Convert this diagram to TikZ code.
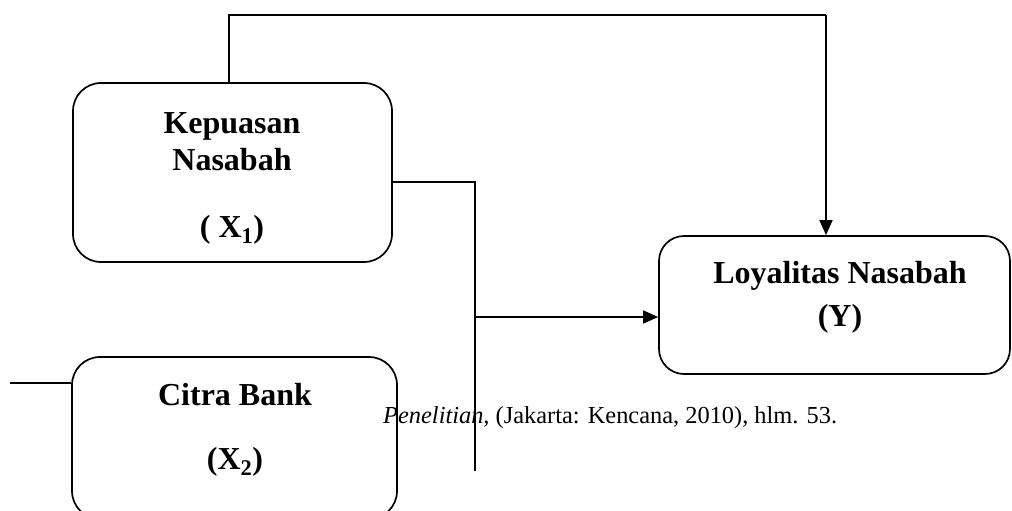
\documentclass[tikz,border=0pt]{standalone}
\usepackage{fontspec}
\setmainfont{Liberation Serif}
\usetikzlibrary{arrows.meta}
\begin{document}
\begin{tikzpicture}[x=1pt,y=-1pt,
  box/.style={draw, line width=1.7pt, rounded corners=28pt, inner sep=0pt},
  lbl/.style={font=\fontsize{32}{38}\selectfont\bfseries, inner sep=0pt, anchor=base},
  conn/.style={line width=1.7pt},
  arr/.style={conn, -{Triangle[length=15pt,width=13pt]}}]
\clip (0,0) rectangle (1012,511);
% boxes
\node[box, minimum width=319pt, minimum height=179pt] (x1) at (232.5,172.5) {};
\node[box, minimum width=325pt, minimum height=162pt] (x2) at (234.5,438) {};
\node[box, rounded corners=25pt, minimum width=351pt, minimum height=138pt] (y) at (834.5,305) {};
% labels
\node[lbl] (t1a) at (232,133) {Kepuasan};
\node[lbl] (t1b) at (232,170) {Nasabah};
\node[lbl] (t1c) at (232,237) {( X\textsubscript{1})};
\node[lbl] (t2a) at (235,405) {Citra Bank};
\node[lbl] (t2b) at (235,469) {(X\textsubscript{2})};
\node[lbl] (t3a) at (840,283) {Loyalitas Nasabah};
\node[lbl] (t3b) at (840,326) {(Y)};
\node[font=\fontsize{24.4}{29}\selectfont, inner sep=0pt, anchor=base west] (src) at (383,423)
  {\textit{Penelitian}, (Jakarta: Kencana, 2010), hlm. 53.};
% connector coordinates
\coordinate (tl) at (229,15);
\coordinate (tr) at (826,15);
\coordinate (j1) at (475,182);
\coordinate (jm) at (475,317);
\coordinate (jb) at (475,471);
\coordinate (lx) at (10,383);
% connectors
\draw[conn] (x1.north -| tl) -- (tl) -- (tr);
\draw[arr] (tr) -- (tr |- y.north);
\draw[conn] (x1.east |- j1) -- (j1) -- (jb);
\draw[arr] (jm) -- (y.west |- jm);
\draw[conn] (lx) -- (x2.west |- lx);
\end{tikzpicture}
\end{document}
